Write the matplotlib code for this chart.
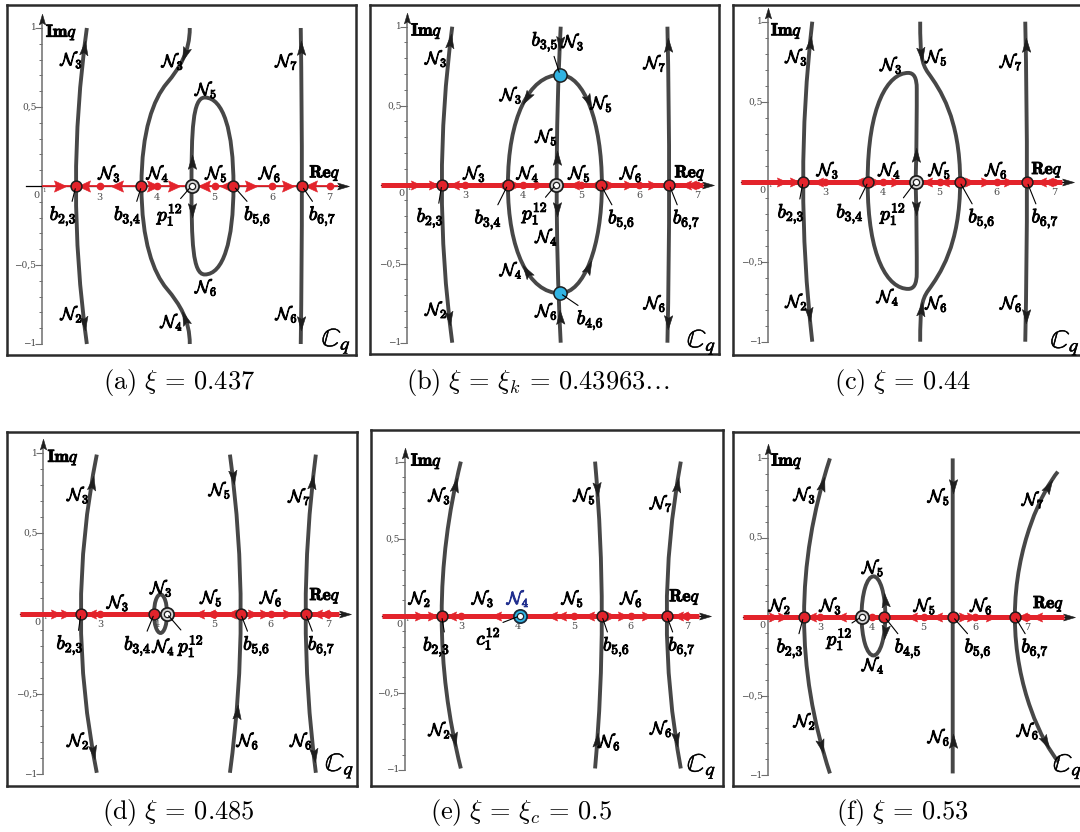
import numpy as np
import matplotlib
matplotlib.use("Agg")
import matplotlib.pyplot as plt
import matplotlib.patheffects as pe
from matplotlib.path import Path
from matplotlib.patches import PathPatch, Ellipse
from matplotlib.markers import MarkerStyle
from matplotlib.transforms import Affine2D
from matplotlib.bezier import BezierSegment

plt.rcParams["mathtext.fontset"] = "cm"
plt.rcParams["font.family"] = ["DejaVu Serif"]

CAPTIONS = [
    r"$\mathrm{(a)}\ \xi\,=\,0.437$",
    r"$\mathrm{(b)}\ \xi\,=\,\xi_k\,=\,0.43963\ldots$",
    r"$\mathrm{(c)}\ \xi\,=\,0.44$",
    r"$\mathrm{(d)}\ \xi\,=\,0.485$",
    r"$\mathrm{(e)}\ \xi\,=\,\xi_c\,=\,0.5$",
    r"$\mathrm{(f)}\ \xi\,=\,0.53$",
]

# axis ticks shared by every panel
IM_MINOR = np.linspace(-1, 1, 21)
IM_MAJOR = [1, 0.5, -0.5, -1]
IM_TEXT = ["1", "0,5", "\u22120,5", "\u22121"]
RE_TICKS = [3, 4, 5, 6, 7]

# ---------------- (a) xi = 0.437
A_EQ = [2.59, 3.73, 5.33, 6.52]
A_POLE = 4.60
A_DOTS = [3, 4, 5, 6, 7]
A_FLOW_X = [2.30, 2.75, 3.32, 3.91, 4.28, 4.83, 5.21, 5.62, 6.26, 6.69]
A_FLOW_D = [1, -1, -1, 1, 1, -1, -1, 1, 1, -1]
A_LEFT = [(2.78, 1.0), (2.40, 0.0), (2.78, -1.0)]
A_MID = [(4.57, 1.0), (4.57, 0.85), (4.40, 0.75), (4.17, 0.65), (3.94, 0.55), (3.73, 0.35),
         (3.73, 0.0), (3.73, -0.35), (3.94, -0.55), (4.17, -0.65), (4.40, -0.75), (4.57, -0.85),
         (4.57, -1.0)]
A_LOOP = [(4.60, 0.0), (4.60, 0.35), (4.62, 0.56), (4.83, 0.56), (5.15, 0.56), (5.33, 0.35),
          (5.33, 0.0), (5.33, -0.35), (5.15, -0.56), (4.83, -0.56), (4.62, -0.56), (4.60, -0.35),
          (4.60, 0.0)]
A_RIGHT = [(6.50, 1.0), (6.54, 0.0), (6.50, -1.0)]
A_N = [("3", 2.52, 0.80), ("2", 2.52, -0.81), ("3", 4.28, 0.79), ("4", 4.26, -0.86),
       ("5", 4.86, 0.61), ("6", 4.86, -0.64), ("7", 6.26, 0.79), ("6", 6.26, -0.81),
       ("3", 3.18, 0.08), ("4", 4.02, 0.08), ("5", 5.04, 0.08), ("6", 5.97, 0.08)]
A_TAGS = [("b_{2{,}3}", 2.59, 0, 2.37, -0.19), ("b_{3{,}4}", 3.73, 0, 3.49, -0.19),
          ("p_1^{12}", 4.60, 0, 4.23, -0.18), ("b_{5{,}6}", 5.33, 0, 5.75, -0.19),
          ("b_{6{,}7}", 6.52, 0, 6.88, -0.19)]

# ---------------- (b) xi = xi_k
B_EQ = [2.60, 3.74, 5.34, 6.52]
B_POLE = 4.57
B_BLUE = [(4.64, 0.695), (4.64, -0.687)]
B_DOTS = [3, 4, 5, 6, 7]
B_FLOW_X = [2.14, 2.45, 2.83, 3.63, 3.86, 4.26, 4.90, 5.24, 5.50, 5.81, 6.22, 6.82, 6.92]
B_FLOW_D = [1, 1, -1, -1, 1, 1, -1, -1, 1, 1, 1, -1, -1]
B_LEFT = [(2.78, 1.0), (2.42, 0.0), (2.78, -1.0)]
B_VERT = [(4.65, 1.0), (4.51, 0.0), (4.65, -1.0)]
B_ELL = [(4.64, 0.695), (4.10, 0.695), (3.74, 0.417), (3.74, 0.0), (3.74, -0.412), (4.10, -0.687),
         (4.64, -0.687), (5.05, -0.687), (5.36, -0.39), (5.36, 0.0), (5.36, 0.40), (5.05, 0.695),
         (4.64, 0.695)]
B_RIGHT = [(6.49, 1.0), (6.55, 0.0), (6.49, -1.0)]
B_N = [("3", 2.51, 0.80), ("2", 2.51, -0.79), ("3", 4.87, 0.905), ("3", 3.80, 0.568),
       ("5", 5.36, 0.515), ("5", 4.41, 0.304), ("4", 4.41, -0.33), ("4", 3.80, -0.54),
       ("6", 4.41, -0.80), ("7", 6.28, 0.77), ("6", 6.28, -0.75),
       ("3", 3.17, 0.072), ("4", 4.09, 0.072), ("5", 4.98, 0.072), ("6", 5.87, 0.072)]
B_TAGS = [("b_{2{,}3}", 2.60, 0, 2.40, -0.21), ("b_{3{,}4}", 3.74, 0, 3.40, -0.22),
          ("p_1^{12}", 4.57, 0, 4.21, -0.18), ("b_{5{,}6}", 5.34, 0, 5.70, -0.22),
          ("b_{6{,}7}", 6.52, 0, 6.82, -0.22), ("b_{3{,}5}", 4.64, 0.695, 4.38, 0.905),
          ("b_{4{,}6}", 4.64, -0.687, 5.16, -0.857)]

# ---------------- (c) xi = 0.44
C_EQ = [2.61, 3.75, 5.35, 6.53]
C_POLE = 4.58
C_DOTS = [3, 4, 5, 6, 7]
C_FLOW_X = [2.23, 2.45, 2.88, 3.58, 3.87, 4.22, 4.80, 5.10, 5.51, 5.80, 6.20, 6.79, 6.92]
C_FLOW_D = [1, 1, -1, -1, 1, 1, -1, -1, 1, 1, 1, -1, -1]
C_LEFT = [(2.77, 1.0), (2.45, 0.0), (2.77, -1.0)]
C_LOOP = [(4.58, 0.0), (4.60, 0.25), (4.60, 0.45), (4.60, 0.58), (4.60, 0.65), (4.55, 0.68),
          (4.45, 0.68), (4.10, 0.68), (3.74, 0.48), (3.74, 0.0), (3.74, -0.48), (4.10, -0.67),
          (4.45, -0.67), (4.55, -0.67), (4.60, -0.64), (4.60, -0.57), (4.60, -0.45), (4.60, -0.25),
          (4.58, 0.0)]
C_OUT = [(4.66, 1.0), (4.66, 0.80), (4.68, 0.74), (4.80, 0.68), (5.00, 0.58), (5.36, 0.40),
         (5.36, 0.0), (5.36, -0.40), (5.00, -0.58), (4.80, -0.68), (4.68, -0.74), (4.66, -0.80),
         (4.66, -1.0)]
C_RIGHT = [(6.50, 1.0), (6.56, 0.0), (6.50, -1.0)]
C_N = [("3", 2.50, 0.78), ("2", 2.50, -0.75), ("3", 4.16, 0.73), ("5", 4.95, 0.78),
       ("4", 4.10, -0.72), ("6", 4.95, -0.76), ("7", 6.26, 0.75), ("6", 6.26, -0.76),
       ("3", 3.05, 0.073), ("4", 4.13, 0.073), ("5", 5.01, 0.073), ("6", 6.00, 0.073)]
C_TAGS = [("b_{2{,}3}", 2.61, 0, 2.40, -0.20), ("b_{3{,}4}", 3.75, 0, 3.43, -0.20),
          ("p_1^{12}", 4.58, 0, 4.19, -0.20), ("b_{5{,}6}", 5.35, 0, 5.74, -0.23),
          ("b_{6{,}7}", 6.53, 0, 6.85, -0.23)]

# ---------------- (d) xi = 0.485
D_EQ = [2.66, 3.95, 5.47, 6.61]
D_POLE = 4.17
D_DOTS = [3, 5, 6, 7]
D_FLOW_X = [2.21, 2.38, 2.85, 3.85, 4.75, 4.95, 5.31, 5.66, 5.87, 6.28, 6.83, 6.95]
D_FLOW_D = [1, 1, -1, -1, -1, -1, -1, 1, 1, 1, -1, -1]
D_LEFT = [(2.94, 0.99), (2.38, 0.0), (2.94, -0.99)]
D_R1 = [(5.28, 0.99), (5.66, 0.0), (5.28, -0.99)]
D_R2 = [(6.79, 0.99), (6.43, 0.0), (6.79, -0.99)]
D_LOOP = (4.06, 0.0)
D_LOOP_W, D_LOOP_H = 0.23, 0.24
D_N = [("3", 2.62, 0.74), ("2", 2.62, -0.79), ("5", 5.11, 0.77), ("6", 5.60, -0.79),
       ("7", 6.51, 0.73), ("6", 6.54, -0.79), ("3", 4.08, 0.16), ("4", 4.12, -0.205),
       ("3", 3.32, 0.07), ("5", 4.96, 0.10), ("6", 6.01, 0.10)]
D_TAGS = [("b_{2{,}3}", 2.66, 0, 2.47, -0.195), ("b_{3{,}4}", 3.95, 0, 3.66, -0.20),
          ("p_1^{12}", 4.17, 0, 4.60, -0.20), ("b_{5{,}6}", 5.47, 0, 5.75, -0.20),
          ("b_{6{,}7}", 6.61, 0, 6.89, -0.20)]

# ---------------- (e) xi = xi_c
E_EQ = [2.65, 5.49, 6.64]
E_CENTER = 4.04
E_DOTS = [3, 5, 6, 7]
E_FLOW_X = [2.25, 2.47, 2.83, 3.63, 4.63, 4.78, 5.28, 5.64, 5.85, 6.28, 6.85, 6.95]
E_FLOW_D = [1, 1, -1, -1, -1, -1, -1, 1, 1, 1, -1, -1]
E_LEFT = [(2.99, 1.0), (2.31, 0.0), (2.99, -0.99)]
E_R1 = [(5.37, 1.0), (5.61, 0.0), (5.37, -0.99)]
E_R2 = [(6.89, 1.0), (6.39, 0.0), (6.89, -0.99)]
E_N = [("3", 2.62, 0.78), ("2", 2.62, -0.74), ("5", 5.19, 0.78), ("6", 5.63, -0.816),
       ("7", 6.55, 0.73), ("6", 6.55, -0.73), ("2", 2.27, 0.113), ("3", 3.39, 0.113),
       ("5", 4.98, 0.113), ("6", 6.02, 0.113)]
E_N_BLUE = [("4", 4.01, 0.113)]
E_TAGS = [("b_{2{,}3}", 2.65, 0, 2.56, -0.20), ("c_1^{12}", 4.04, 0, 3.48, -0.146),
          ("b_{5{,}6}", 5.49, 0, 5.75, -0.20), ("b_{6{,}7}", 6.64, 0, 6.91, -0.20)]

# ---------------- (f) xi = 0.53
F_EQ = [2.68, 4.24, 5.56, 6.76]
F_POLE = 3.80
F_DOTS = [3, 4, 5, 6, 7]
F_FLOW_X = [2.10, 2.27, 2.84, 3.42, 4.80, 5.28, 5.76, 5.92, 6.28, 6.91, 7.20]
F_FLOW_D = [1, 1, -1, -1, -1, -1, 1, 1, 1, -1, -1]
F_LEFT = [(3.19, 1.0), (2.19, 0.0), (3.19, -0.99)]
F_VERT = [(5.56, 1.0), (5.56, 0.0), (5.56, -0.99)]
F_ARC = [(7.59, 0.916), (7.30, 0.80), (6.76, 0.45), (6.76, 0.0), (6.76, -0.45), (7.30, -0.80),
         (7.60, -0.916)]
F_LOOP = (4.03, 0.005)
F_LOOP_W, F_LOOP_H = 0.46, 0.50
F_LOOP_HEADS = [(4.245, 0.10, 97), (4.245, -0.09, -97)]
F_N = [("3", 2.71, 0.77), ("2", 2.71, -0.66), ("5", 5.30, 0.76), ("6", 5.30, -0.76),
       ("7", 7.12, 0.74), ("6", 7.02, -0.72), ("5", 4.03, 0.31), ("4", 4.03, -0.305),
       ("2", 2.23, 0.07), ("3", 3.21, 0.07), ("5", 5.03, 0.07), ("6", 6.12, 0.07)]
F_TAGS = [("b_{2{,}3}", 2.68, 0, 2.42, -0.20), ("p_1^{12}", 3.80, 0, 3.38, -0.14),
          ("b_{4{,}5}", 4.24, 0, 4.70, -0.20), ("b_{5{,}6}", 5.56, 0, 6.05, -0.20),
          ("b_{6{,}7}", 6.76, 0, 7.15, -0.20)]

# ---------------- layout (pixels of the 1080x832 picture)
W, H = 1080, 832
# frame left, top, right, bottom, px of Re=2, px per unit Re, px of Im=0, px per unit Im
FRAMES = [
    (7, 5, 356, 355, 42.0, 57.5, 186.0, 158.0),
    (370, 5, 719, 354, 407.0, 58.0, 184.7, 158.0),
    (733, 5, 1084, 355, 768.3, 57.1, 181.7, 160.0),
    (7, 432, 357, 786, 43.3, 56.9, 613.7, 160.7),
    (371, 430, 723, 786, 405.0, 56.4, 615.8, 154.2),
    (733, 432, 1084, 786, 768.3, 51.8, 616.7, 158.3),
]
CAP_POS = [(179, 383), (538, 383), (903, 383), (178, 812), (521, 812), (903, 812)]

RED = "#e3232b"
CURVE = "#474747"
HEADC = "#1e1e1e"
FRAMEC = "#2b2b2b"
AXG = "#6e6e6e"
TICKG = "#4a4a4a"
CYAN = "#31b3e2"
NAVY = "#22308f"
BOLD = [pe.withStroke(linewidth=0.7, foreground="k")]

DART = Path([(0, 1.0), (-0.5, -0.7), (0, -0.38), (0.5, -0.7), (0, 1.0)],
            [Path.MOVETO, Path.LINETO, Path.LINETO, Path.LINETO, Path.CLOSEPOLY])
TRI = Path([(0, 0.8), (-0.62, -0.55), (0, -0.35), (0.62, -0.55), (0, 0.8)],
           [Path.MOVETO, Path.LINETO, Path.LINETO, Path.LINETO, Path.CLOSEPOLY])

fig = plt.figure(figsize=(W / 100, H / 100), dpi=100)


def frame(i):
    L, T, R, B, x0, ux, y0, uy = FRAMES[i]
    ax = fig.add_axes([L / W, 1 - B / H, (R - L) / W, (B - T) / H])
    ax.set_xlim(2 - (x0 - L) / ux, 2 + (R - x0) / ux)
    ax.set_ylim((y0 - B) / uy, (y0 - T) / uy)
    ax.set_xticks([])
    ax.set_yticks([])
    for sp in ax.spines.values():
        sp.set_linewidth(1.8)
        sp.set_color(FRAMEC)
    fig.text(CAP_POS[i][0] / W, 1 - CAP_POS[i][1] / H, CAPTIONS[i],
             ha="center", va="center", fontsize=19)
    return ax


def head(ax, x, y, ang, color, size, shape=DART, z=6):
    ms = MarkerStyle(shape, transform=Affine2D().rotate_deg(ang - 90))
    ax.plot([x], [y], ls="none", marker=ms, ms=size, mfc=color, mec=color, mew=0.4, zorder=z)


def axes_lines(ax, x_start, x_tip, red_start, red_lw):
    ax.plot([2, 2], [-1.0, 1.04], color=AXG, lw=1.1, zorder=2)
    head(ax, 2, 1.05, 90, HEADC, 9, z=3)
    ax.plot([2] * len(IM_MINOR), IM_MINOR, ls="none", marker=0, ms=2.5, mew=0.7, color=AXG)
    ax.plot([2] * len(IM_MAJOR), IM_MAJOR, ls="none", marker=0, ms=5, mew=0.8, color=AXG)
    for v, s in zip(IM_MAJOR, IM_TEXT):
        ax.annotate(s, (2, v), xytext=(-4, 0), textcoords="offset points",
                    ha="right", va="center", fontsize=6.5, color=TICKG)
    for v in RE_TICKS:
        ax.annotate(str(v), (v, 0), xytext=(0, -8), textcoords="offset points",
                    ha="center", va="center", fontsize=7, color=TICKG)
    ax.annotate("0", (2, 0), xytext=(-4, -6.5), textcoords="offset points",
                ha="center", va="center", fontsize=7, color=TICKG)
    ax.annotate("1", (2, 0), xytext=(1.5, -3), textcoords="offset points",
                ha="center", va="center", fontsize=4, color=TICKG)
    ax.plot([x_start, x_tip - 0.1], [0, 0], color="k", lw=0.9, zorder=2)
    head(ax, x_tip - 0.08, 0, 0, HEADC, 10, z=3)
    ax.plot([red_start, x_tip - 0.16], [0, 0], color=RED, lw=red_lw, zorder=3,
            solid_capstyle="butt")


def flow(ax, xs, ds, size=8.5):
    for x, d in zip(xs, ds):
        head(ax, x, 0, 0 if d > 0 else 180, RED, size, shape=TRI, z=4)


def dots(ax, xs):
    ax.plot(xs, [0] * len(xs), ls="none", marker="o", ms=4.5, mfc=RED, mec=RED, zorder=4)


def curve(ax, pts, order, heads):
    pts = np.asarray(pts, float)
    code = Path.CURVE4 if order == 4 else Path.CURVE3
    path = Path(pts, [Path.MOVETO] + [code] * (len(pts) - 1))
    ax.add_patch(PathPatch(path, fill=False, ec=CURVE, lw=2.8, zorder=5, capstyle="butt"))
    n = order - 1
    for s, sign in heads:
        i = min(int(s), (len(pts) - 1) // n - 1)
        t = s - i
        seg = BezierSegment(pts[n * i:n * i + order])
        p = np.array(seg.point_at_t(t))
        a, b = ax.transData.transform([seg.point_at_t(max(t - 0.01, 0)),
                                       seg.point_at_t(min(t + 0.01, 1))])
        dx, dy = (b - a) * sign
        head(ax, p[0], p[1], np.degrees(np.arctan2(dy, dx)), HEADC, 12)


def loop(ax, xy, w, h):
    ax.add_patch(Ellipse(xy, w, h, fill=False, ec=CURVE, lw=2.8, zorder=5))


def equilibria(ax, xs, ys=None, face=RED, size=7.8):
    ys = [0] * len(xs) if ys is None else ys
    ax.plot(xs, ys, ls="none", marker="o", ms=size, mfc=face, mec="#1e1e1e", mew=1.1, zorder=7)


def pole(ax, x, ring="#d4d4d4", edge="#1e1e1e"):
    ax.plot([x], [0], ls="none", marker="o", ms=9.5, mfc=ring, mec=edge, mew=1.3, zorder=7)
    ax.plot([x], [0], ls="none", marker="o", ms=4.5, mfc="white", mec=edge, mew=0.9, zorder=7)


def n_labels(ax, items, color="k"):
    for k, x, y in items:
        ax.text(x, y, r"$\mathcal{N}_{%s}$" % k, ha="center", va="center", fontsize=12.5,
                color=color, zorder=8,
                path_effects=[pe.withStroke(linewidth=0.7, foreground=color)])


def tags(ax, items):
    for s, x, y, lx, ly in items:
        rx = 0.8 if lx < x else 0.2
        ry = 1.0 if ly < y else 0.0
        ax.annotate("$%s$" % s, xy=(x, y), xytext=(lx, ly), ha="center", va="center",
                    fontsize=14, zorder=8, path_effects=BOLD,
                    arrowprops=dict(arrowstyle="-", lw=0.8, color="k", shrinkA=0, shrinkB=2,
                                    relpos=(rx, ry)))


def corner(ax, req, imq, cq):
    ax.text(*req, r"$\mathbf{Re}q$", ha="center", va="center", fontsize=12.5, zorder=8,
            path_effects=BOLD)
    ax.text(*imq, r"$\mathbf{Im}q$", ha="center", va="center", fontsize=12.5, zorder=8,
            path_effects=BOLD)
    ax.text(*cq, r"$\mathbb{C}_{\mathit{q}}$", ha="center", va="center", fontsize=19, zorder=8,
            math_fontfamily="stix",
            path_effects=[pe.withStroke(linewidth=0.35, foreground="k")])


# (a)
ax = frame(0)
axes_lines(ax, 1.72, 7.30, 2.0, 1.3)
flow(ax, A_FLOW_X, A_FLOW_D, 10.5)
dots(ax, A_DOTS)
curve(ax, A_LEFT, 3, [(0.065, -1), (0.93, 1)])
curve(ax, A_MID, 4, [(0.4, 1), (3.6, -1)])
curve(ax, A_LOOP, 4, [(0.15, 1), (3.85, -1)])
curve(ax, A_RIGHT, 3, [(0.065, -1), (0.93, 1)])
equilibria(ax, A_EQ)
pole(ax, A_POLE)
n_labels(ax, A_N)
tags(ax, A_TAGS)
corner(ax, (6.92, 0.08), (2.34, 0.97), (7.12, -0.985))

# (b)
ax = frame(1)
axes_lines(ax, 1.56, 7.26, 1.56, 3.6)
flow(ax, B_FLOW_X, B_FLOW_D)
dots(ax, B_DOTS)
curve(ax, B_LEFT, 3, [(0.05, -1), (0.92, 1)])
curve(ax, B_VERT, 3, [(0.05, 1), (0.42, -1), (0.575, 1), (0.923, -1)])
curve(ax, B_ELL, 4, [(0.42, 1), (1.58, -1), (2.45, 1), (3.55, -1)])
curve(ax, B_RIGHT, 3, [(0.06, -1), (0.93, 1)])
equilibria(ax, B_EQ)
equilibria(ax, [p[0] for p in B_BLUE], [p[1] for p in B_BLUE], face=CYAN, size=9.5)
pole(ax, B_POLE)
n_labels(ax, B_N)
tags(ax, B_TAGS)
corner(ax, (6.88, 0.072), (2.34, 0.97), (7.08, -1.0))

# (c)
ax = frame(2)
axes_lines(ax, 1.53, 7.31, 1.53, 3.6)
flow(ax, C_FLOW_X, C_FLOW_D)
dots(ax, C_DOTS)
curve(ax, C_LEFT, 3, [(0.07, -1), (0.91, 1)])
curve(ax, C_LOOP, 4, [(0.22, 1), (5.78, -1)])
curve(ax, C_OUT, 4, [(0.45, 1), (3.55, -1)])
curve(ax, C_RIGHT, 3, [(0.075, -1), (0.915, 1)])
equilibria(ax, C_EQ)
pole(ax, C_POLE)
n_labels(ax, C_N)
tags(ax, C_TAGS)
corner(ax, (6.88, 0.073), (2.32, 0.94), (7.20, -1.01))

# (d)
ax = frame(3)
axes_lines(ax, 1.59, 7.36, 1.59, 3.6)
flow(ax, D_FLOW_X, D_FLOW_D)
dots(ax, D_DOTS)
curve(ax, D_LEFT, 3, [(0.091, -1), (0.93, 1)])
curve(ax, D_R1, 3, [(0.066, 1), (0.813, -1)])
curve(ax, D_R2, 3, [(0.09, -1), (0.94, 1)])
loop(ax, D_LOOP, D_LOOP_W, D_LOOP_H)
equilibria(ax, D_EQ)
pole(ax, D_POLE)
n_labels(ax, D_N)
tags(ax, D_TAGS)
corner(ax, (6.95, 0.11), (2.35, 0.97), (7.21, -0.95))

# (e)
ax = frame(4)
axes_lines(ax, 1.59, 7.38, 1.59, 3.6)
flow(ax, E_FLOW_X, E_FLOW_D)
dots(ax, E_DOTS)
curve(ax, E_LEFT, 3, [(0.08, -1), (0.90, 1)])
curve(ax, E_R1, 3, [(0.085, 1), (0.91, -1)])
curve(ax, E_R2, 3, [(0.08, -1), (0.90, 1)])
equilibria(ax, E_EQ)
pole(ax, E_CENTER, ring=CYAN, edge="#1b2a3a")
n_labels(ax, E_N)
n_labels(ax, E_N_BLUE, color=NAVY)
tags(ax, E_TAGS)
corner(ax, (6.96, 0.12), (2.38, 1.0), (7.26, -0.98))

# (f)
ax = frame(5)
axes_lines(ax, 1.52, 7.86, 1.52, 3.6)
flow(ax, F_FLOW_X, F_FLOW_D)
dots(ax, F_DOTS)
curve(ax, F_LEFT, 3, [(0.085, -1), (0.91, 1)])
curve(ax, F_VERT, 3, [(0.085, 1), (0.90, -1)])
curve(ax, F_ARC, 4, [(0.2, -1), (1.75, 1)])
loop(ax, F_LOOP, F_LOOP_W, F_LOOP_H)
for x, y, a in F_LOOP_HEADS:
    head(ax, x, y, a, HEADC, 12)
equilibria(ax, F_EQ)
pole(ax, F_POLE)
n_labels(ax, F_N)
tags(ax, F_TAGS)
corner(ax, (7.41, 0.08), (2.36, 0.98), (7.78, -0.95))

fig.savefig("out.png", dpi=100)
